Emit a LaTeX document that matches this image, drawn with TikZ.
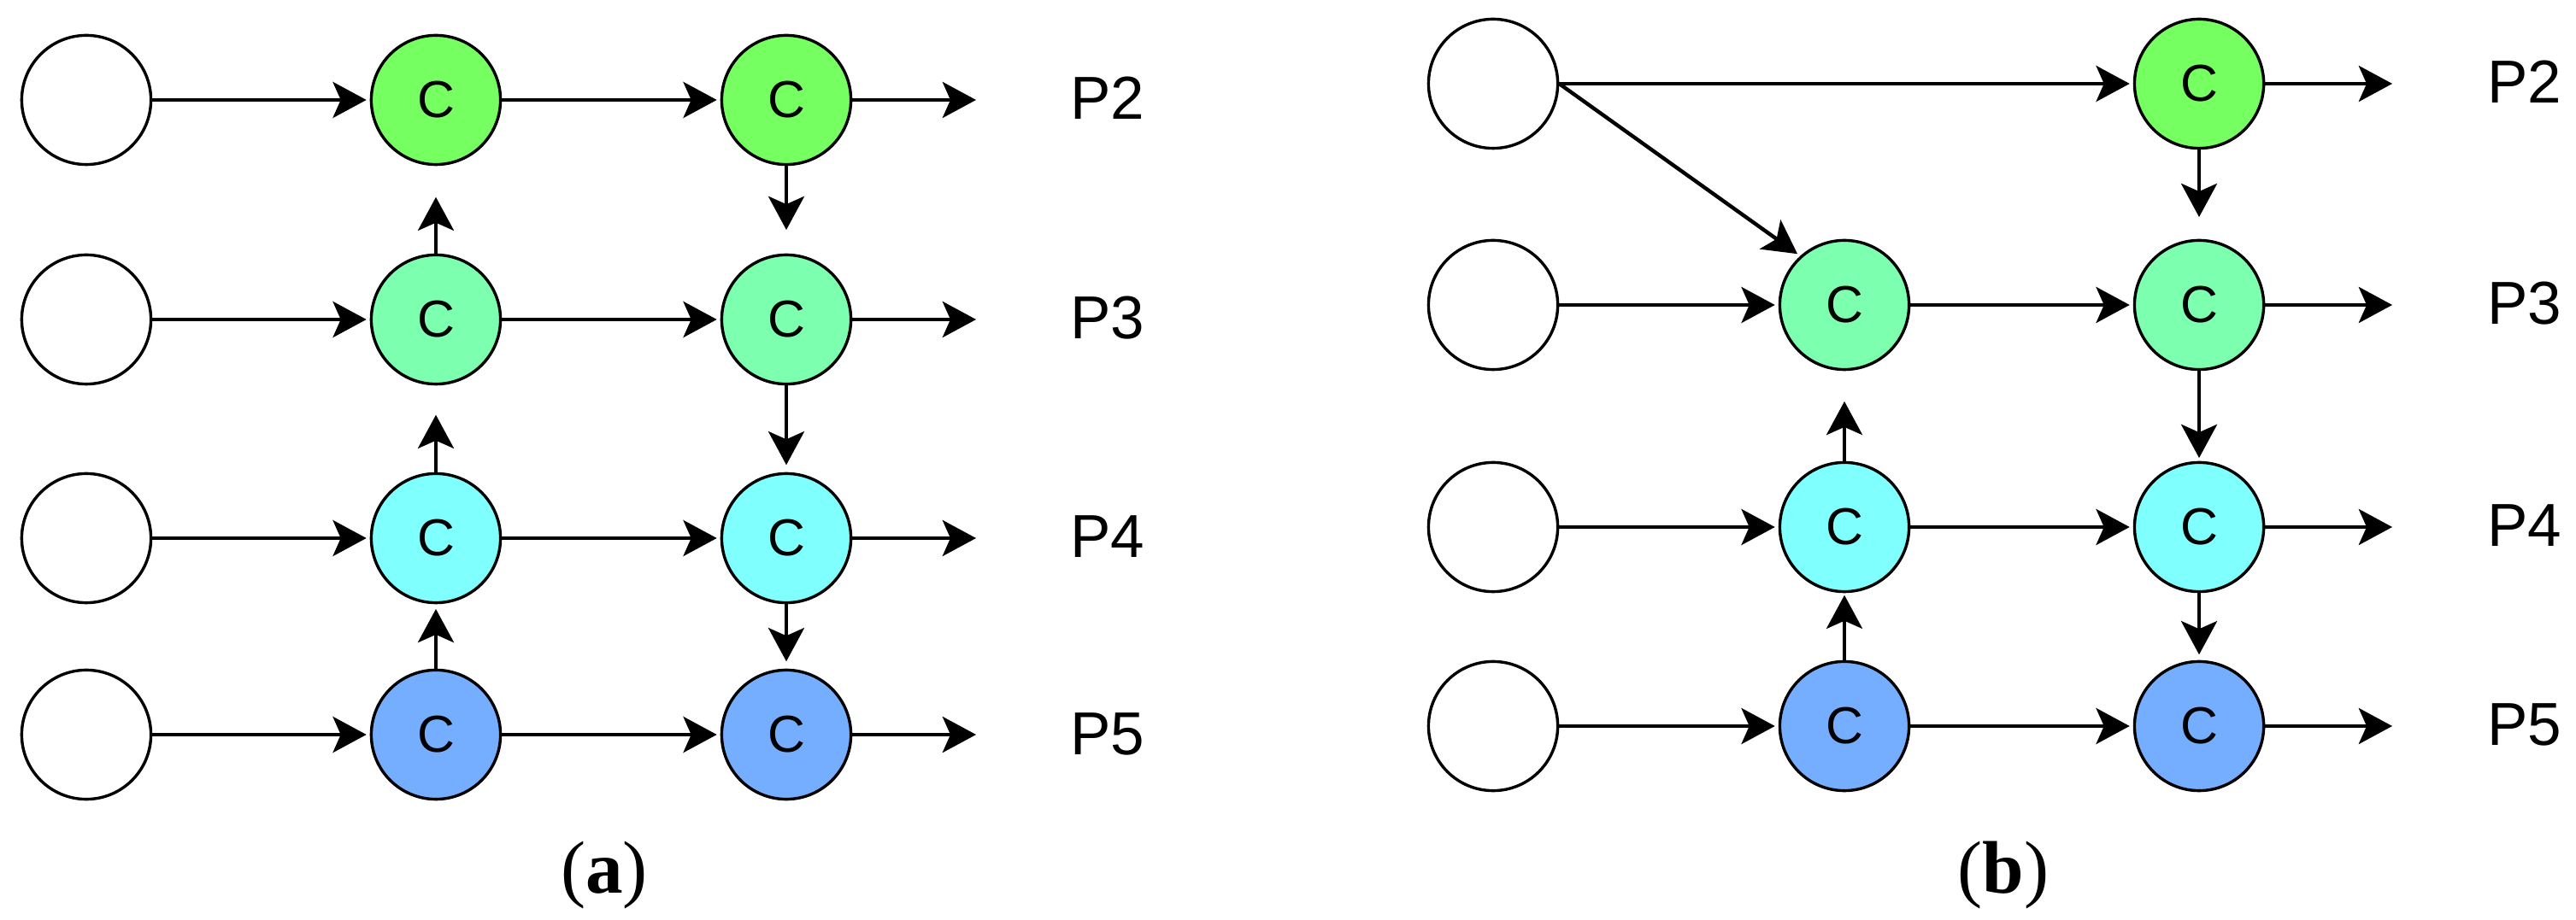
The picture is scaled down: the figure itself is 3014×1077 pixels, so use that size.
\documentclass[tikz,border=0pt]{standalone}
\usepackage{fontspec}
\setmainfont{Liberation Serif}
\newfontfamily\labelfont{Liberation Sans}
\usetikzlibrary{arrows.meta}
\definecolor{cPtwo}{HTML}{76FF60}
\definecolor{cPthree}{HTML}{7DFFB0}
\definecolor{cPfour}{HTML}{80FFFF}
\definecolor{cPfive}{HTML}{75AEFF}
\begin{document}
\begin{tikzpicture}[x=0.25pt,y=-0.25pt,
  every node/.style={inner sep=0pt},
  inbox/.style={circle,draw=black,line width=0.85pt,fill=white,minimum size=37.8pt},
  cbox/.style={inbox,font=\labelfont\fontsize{15.2pt}{16pt}\selectfont},
  plabel/.style={anchor=base west,font=\labelfont\fontsize{17.75pt}{20pt}\selectfont},
  caplabel/.style={anchor=base,font=\fontsize{21.8pt}{24pt}\selectfont},
  edge/.style={-{Stealth[length=9.8pt,width=10.5pt,inset=2.3pt]},line width=1.1pt,shorten >=1pt}
]
\useasboundingbox (0,0) rectangle (3014,1077);

% ---------------- panel (a) ----------------
\node[inbox] (aw1) at (101,117) {};
\node[inbox] (aw2) at (101,374) {};
\node[inbox] (aw3) at (101,630) {};
\node[inbox] (aw4) at (101,860) {};

\node[cbox,fill=cPtwo]   (ac1) at (510,117) {C};
\node[cbox,fill=cPthree] (ac2) at (510,374) {C};
\node[cbox,fill=cPfour]  (ac3) at (510,630) {C};
\node[cbox,fill=cPfive]  (ac4) at (510,860) {C};

\node[cbox,fill=cPtwo]   (ad1) at (920,117) {C};
\node[cbox,fill=cPthree] (ad2) at (920,374) {C};
\node[cbox,fill=cPfour]  (ad3) at (920,630) {C};
\node[cbox,fill=cPfive]  (ad4) at (920,860) {C};

\coordinate (ao1) at (1142,117);
\coordinate (ao2) at (1142,374);
\coordinate (ao3) at (1142,630);
\coordinate (ao4) at (1142,860);

\node[plabel] (ap1) at (1251.5,140) {P2};
\node[plabel] (ap2) at (1251.5,397) {P3};
\node[plabel] (ap3) at (1251.5,653) {P4};
\node[plabel] (ap4) at (1251.5,883) {P5};

\foreach \i in {1,2,3,4}{
  \draw[edge] (aw\i) -- (ac\i);
  \draw[edge] (ac\i) -- (ad\i);
  \draw[edge,shorten >=0pt] (ad\i) -- (ao\i);
}
\draw[edge,shorten >=9.1pt] (ac2) -- (ac1);
\draw[edge,shorten >=8.6pt] (ac3) -- (ac2);
\draw[edge,shorten >=1.4pt] (ac4) -- (ac3);
\draw[edge,shorten >=6.9pt] (ad1) -- (ad2);
\draw[edge,shorten >=2.1pt] (ad2) -- (ad3);
\draw[edge,shorten >=2.1pt] (ad3) -- (ad4);

\node[caplabel] (acap) at (707,1045) {(\textbf{a})};

% ---------------- panel (b) ----------------
\node[inbox] (bw1) at (1747,98) {};
\node[inbox] (bw2) at (1747,357) {};
\node[inbox] (bw3) at (1747,617) {};
\node[inbox] (bw4) at (1747,850) {};

\node[cbox,fill=cPthree] (bc2) at (2158,357) {C};
\node[cbox,fill=cPfour]  (bc3) at (2158,617) {C};
\node[cbox,fill=cPfive]  (bc4) at (2158,850) {C};

\node[cbox,fill=cPtwo]   (bd1) at (2573,98) {C};
\node[cbox,fill=cPthree] (bd2) at (2573,357) {C};
\node[cbox,fill=cPfour]  (bd3) at (2573,617) {C};
\node[cbox,fill=cPfive]  (bd4) at (2573,850) {C};

\coordinate (bo1) at (2799,98);
\coordinate (bo2) at (2799,357);
\coordinate (bo3) at (2799,617);
\coordinate (bo4) at (2799,850);

\node[plabel] (bp1) at (2909.5,121) {P2};
\node[plabel] (bp2) at (2909.5,380) {P3};
\node[plabel] (bp3) at (2909.5,640) {P4};
\node[plabel] (bp4) at (2909.5,873) {P5};

\draw[edge] (bw1) -- (bd1);
\draw[edge] (bw1.east) -- (bc2.132);
\foreach \i in {2,3,4}{
  \draw[edge] (bw\i) -- (bc\i);
  \draw[edge] (bc\i) -- (bd\i);
}
\foreach \i in {1,2,3,4}{
  \draw[edge,shorten >=0pt] (bd\i) -- (bo\i);
}
\draw[edge,shorten >=6.4pt] (bd1) -- (bd2);
\draw[edge,shorten >=0.9pt] (bd2) -- (bd3);
\draw[edge,shorten >=1.6pt] (bd3) -- (bd4);
\draw[edge,shorten >=8.9pt] (bc3) -- (bc2);
\draw[edge,shorten >=0.6pt] (bc4) -- (bc3);

\node[caplabel] (bcap) at (2344,1045) {(\textbf{b})};
\end{tikzpicture}
\end{document}
